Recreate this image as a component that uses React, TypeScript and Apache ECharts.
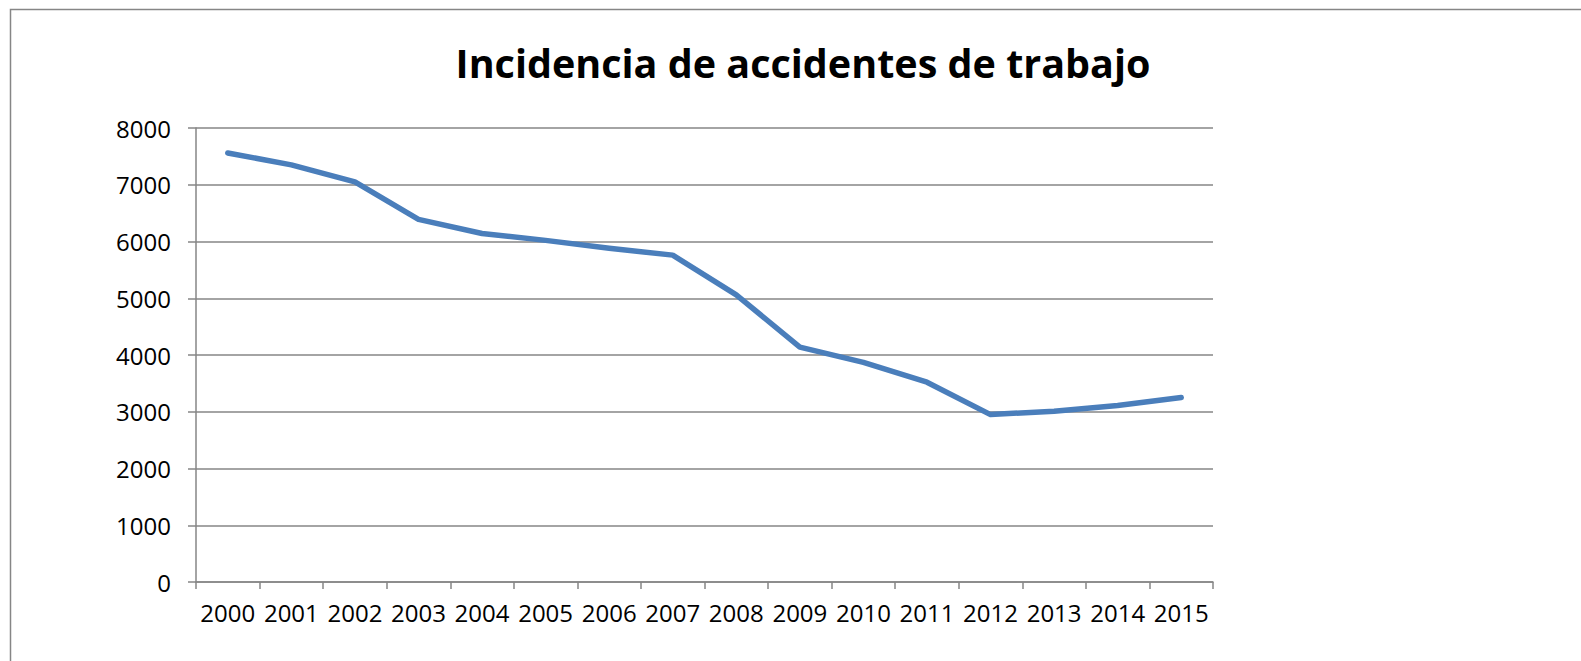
import React, { useEffect, useRef } from "react";
import * as echarts from "echarts";

const titleText = "Incidencia de accidentes de trabajo";
const years = ["2000", "2001", "2002", "2003", "2004", "2005", "2006", "2007", "2008", "2009", "2010", "2011", "2012", "2013", "2014", "2015"];
const incidence = [7560, 7350, 7050, 6390, 6140, 6020, 5880, 5760, 5060, 4140, 3870, 3520, 2950, 3010, 3110, 3250];
const yMin = 0;
const yMax = 8000;
const yInterval = 1000;

export default function App() {
  const ref = useRef<HTMLDivElement>(null);
  useEffect(() => {
    if (!ref.current) return;
    const chart = echarts.init(ref.current, undefined, { renderer: "svg" });
    const gray = "#868686";
    const font = "'Open Sans', 'Noto Sans', sans-serif";
    chart.setOption({
      animation: false,
      backgroundColor: "#ffffff",
      title: {
        text: titleText,
        left: 798,
        top: 35,
        textAlign: "center",
        textStyle: { fontFamily: font, fontWeight: "bold", fontSize: 39.5, color: "#000", lineHeight: 46 },
      },
      graphic: [
        {
          type: "rect",
          shape: { x: 10.5, y: 9.5, width: 1700, height: 800 },
          style: { fill: "none", stroke: gray, lineWidth: 1.5 },
          silent: true,
        },
      ],
      grid: { left: 196, top: 128, right: 368, bottom: 79, containLabel: false },
      xAxis: {
        type: "category",
        data: years,
        boundaryGap: true,
        axisLine: { show: true, lineStyle: { color: gray, width: 1.5 } },
        axisTick: { show: true, length: 7, lineStyle: { color: gray, width: 1.5 } },
        axisLabel: { fontFamily: font, fontSize: 24, color: "#000", margin: 18, interval: 0 },
        splitLine: { show: false },
      },
      yAxis: {
        type: "value",
        min: yMin,
        max: yMax,
        interval: yInterval,
        axisLine: { show: true, lineStyle: { color: gray, width: 1.5 } },
        axisTick: { show: true, length: 8, lineStyle: { color: gray, width: 1.5 } },
        axisLabel: { fontFamily: font, fontSize: 24, color: "#000", margin: 25, formatter: (v: number) => String(v) },
        splitLine: { show: true, lineStyle: { color: gray, width: 1.5 } },
      },
      series: [
        {
          type: "line",
          data: incidence,
          symbol: "none",
          lineStyle: { color: "#4A7EBB", width: 5.5, cap: "round", join: "round" },
          itemStyle: { color: "#4A7EBB" },
        },
      ],
    });
    return () => chart.dispose();
  }, []);
  return (
    <div
      ref={ref}
      style={{ position: "fixed", left: 0, top: 0, width: 1581, height: 661, background: "#fff" }}
    />
  );
}
